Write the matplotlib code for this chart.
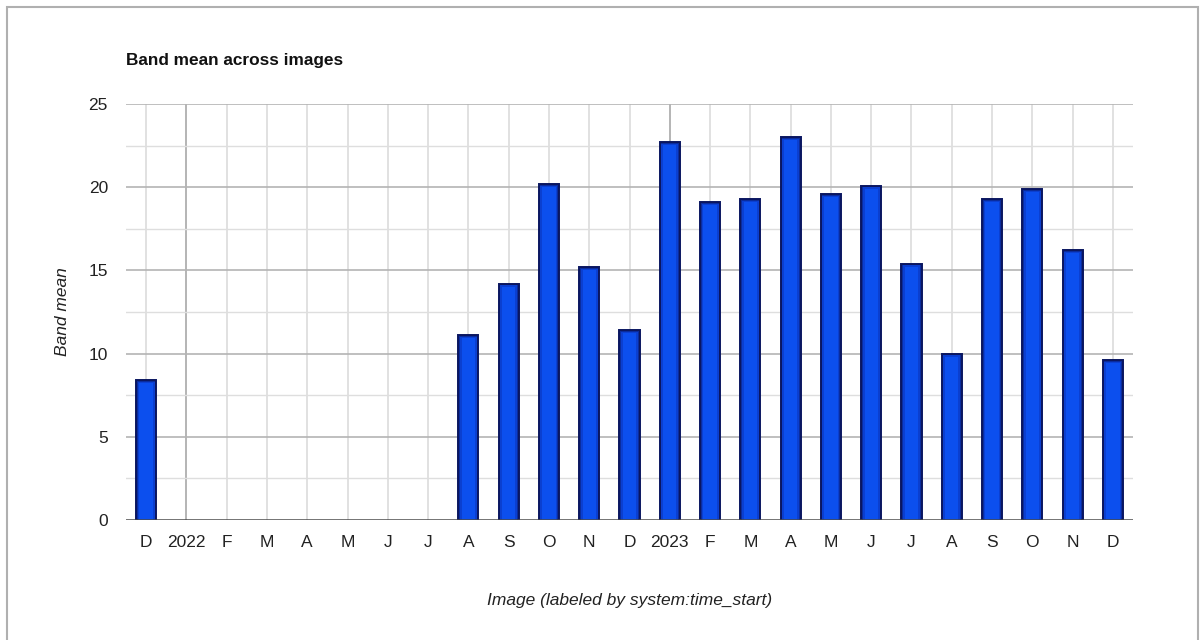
import matplotlib
matplotlib.use("Agg")
import matplotlib.pyplot as plt
from matplotlib.patches import Rectangle

plt.rcParams['font.family'] = ['Liberation Sans', 'DejaVu Sans']

# monthly ticks from Dec 2021 to Dec 2023
tick_labels = ['D', '2022', 'F', 'M', 'A', 'M', 'J', 'J', 'A', 'S', 'O', 'N',
               'D', '2023', 'F', 'M', 'A', 'M', 'J', 'J', 'A', 'S', 'O', 'N', 'D']
# band mean per month, None where there is no image
band_mean = [8.4, None, None, None, None, None, None, None, 11.1, 14.2, 20.2, 15.2,
             11.4, 22.7, 19.1, 19.3, 23.0, 19.6, 20.1, 15.4, 10.0, 19.3, 19.9, 16.2, 9.6]
year_ticks = ['2022', '2023']

fig = plt.figure(figsize=(12, 6.4), dpi=100)
fig.patches.append(Rectangle((7 / 1200, -0.05), 1191 / 1200, 1.05 - 7 / 640,
                             transform=fig.transFigure, fill=False,
                             edgecolor='#b0b0b0', linewidth=1.5))
ax = fig.add_axes([126 / 1200, 1 - 520 / 640, 1007 / 1200, 416 / 640])

xs = [i for i, v in enumerate(band_mean) if v is not None]
vals = [v for v in band_mean if v is not None]
# outer bar with dark border, then lighter nested bars for the gradient
ax.bar(xs, vals, width=0.5, color='#0a2c9e', edgecolor='#0a1660',
       linewidth=1.4, zorder=3)
ax.bar(xs, [v - 0.1 for v in vals], width=0.42, color='#0b3fd0',
       linewidth=0, zorder=4)
ax.bar(xs, [v - 0.18 for v in vals], width=0.33, color='#0c4fee',
       linewidth=0, zorder=5)

ax.set_xlim(-0.5, len(tick_labels) - 0.5)
ax.set_ylim(0, 25)
ax.set_xticks(range(len(tick_labels)))
ax.set_xticklabels(tick_labels)
ax.set_yticks([0, 5, 10, 15, 20, 25])

for i, lab in enumerate(tick_labels):
    dark = lab in year_ticks
    ax.axvline(i, color='#a8a8a8' if dark else '#dcdcdc',
               linewidth=1.2, zorder=1)
for y in [5, 10, 15, 20, 25]:
    ax.axhline(y, color='#b4b4b4', linewidth=1.2, zorder=1)
for y in [2.5, 7.5, 12.5, 17.5, 22.5]:
    ax.axhline(y, color='#dedede', linewidth=1.0, zorder=1)
ax.axhline(0, color='#4a4a4a', linewidth=1.8, zorder=6)

for s in ax.spines.values():
    s.set_visible(False)
ax.tick_params(axis='both', which='both', length=0, labelsize=12.5,
               colors='#222222')
ax.tick_params(axis='x', pad=11)
ax.tick_params(axis='y', pad=13)

fig.text(126 / 1200, 1 - 60 / 640, 'Band mean across images', fontsize=12.4,
         fontweight='bold', ha='left', va='center', color='#111111')
ax.set_ylabel('Band mean', fontsize=12.5, style='italic', labelpad=13,
              color='#222222')
ax.set_xlabel('Image (labeled by system:time_start)', fontsize=12.5,
              style='italic', labelpad=31, color='#222222')

fig.savefig('out.png', dpi=100)
